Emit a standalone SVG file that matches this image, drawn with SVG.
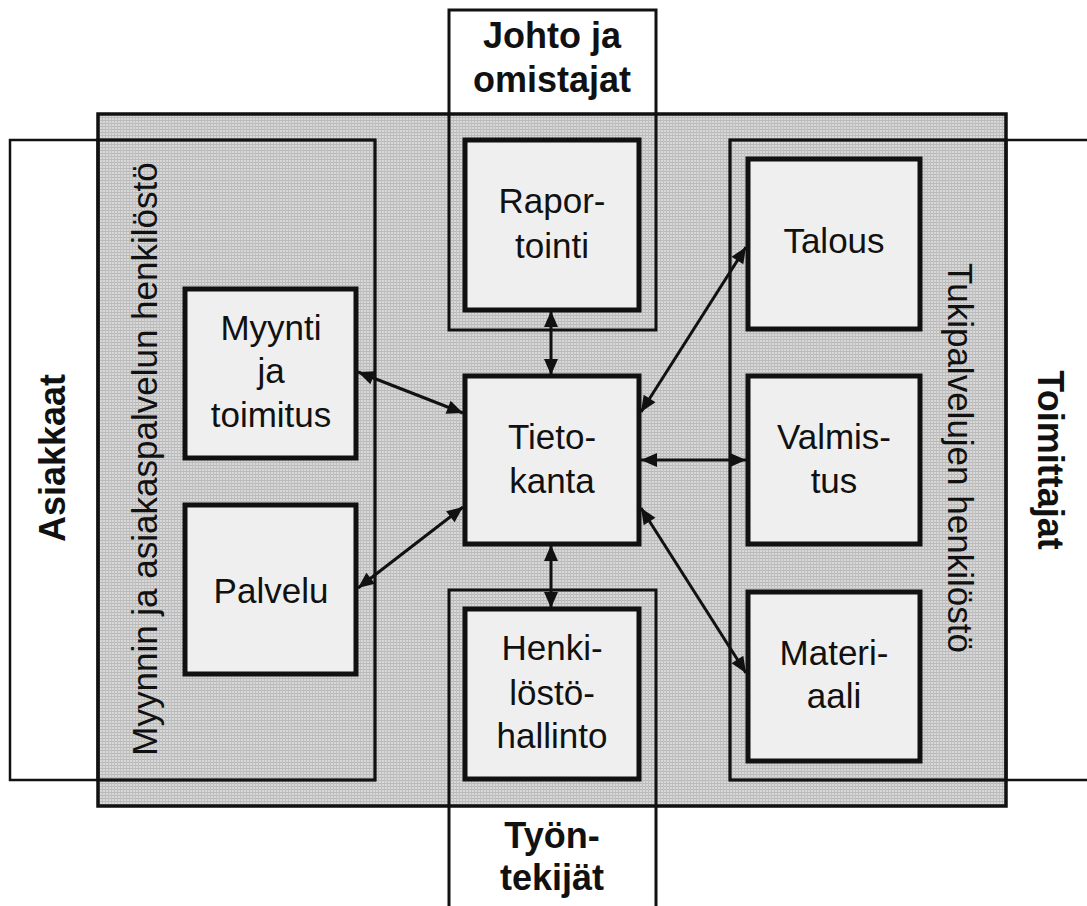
<svg xmlns="http://www.w3.org/2000/svg" width="1087" height="906" viewBox="0 0 1087 906">
<style>
.frame{fill:none;stroke:#111;stroke-width:3}
.outer{fill:none;stroke:#111;stroke-width:2.5}
.box{fill:#efefef;stroke:#111;stroke-width:5}
.t{font-family:"Liberation Sans",Arial,sans-serif;font-size:35px;fill:#111;text-anchor:middle}
.b{font-family:"Liberation Sans",Arial,sans-serif;font-size:36px;font-weight:bold;fill:#111;text-anchor:middle}
.conn{stroke:#111;stroke-width:3;fill:none;marker-start:url(#ah);marker-end:url(#ah)}
</style>
<defs>
<pattern id="grid" width="3" height="3" patternUnits="userSpaceOnUse">
<rect width="3" height="3" fill="#d8d8d8"/>
<rect width="3" height="1" fill="#b8b8b8"/>
<rect width="1" height="3" fill="#c0c0c0"/>
</pattern>
<marker id="ah" markerUnits="userSpaceOnUse" markerWidth="18" markerHeight="18" viewBox="0 0 18 18" refX="17" refY="9" orient="auto-start-reverse">
<path d="M1,2 L17,9 L1,16 Z" fill="#111"/>
</marker>
</defs>
<rect width="1087" height="906" fill="#fff"/>
<g id="background">
<rect x="98" y="114" width="908" height="692" fill="url(#grid)" stroke="#111" stroke-width="3.5"/>
</g>
<g id="asiakkaat">
<rect class="outer" x="10" y="140" width="365" height="640"/>
<text class="b" transform="translate(65,458) rotate(-90)">Asiakkaat</text>
</g>
<g id="toimittajat">
<rect class="outer" x="730" y="140" width="380" height="640"/>
<text class="b" transform="translate(1038,460) rotate(90)">Toimittajat</text>
</g>
<g id="myynnin-henkilosto">
<rect class="frame" x="98" y="140" width="277" height="640"/>
<text class="t" transform="translate(157,459) rotate(-90)">Myynnin ja asiakaspalvelun henkilöstö</text>
</g>
<g id="tukipalvelujen-henkilosto">
<rect class="frame" x="730" y="140" width="276" height="640"/>
<text class="t" transform="translate(948,458) rotate(90)">Tukipalvelujen henkilöstö</text>
</g>
<g id="johto">
<rect class="frame" x="449" y="10" width="207" height="320"/>
<text class="b" x="552" y="48">Johto ja</text>
<text class="b" x="552" y="92">omistajat</text>
</g>
<g id="tyontekijat">
<rect class="frame" x="449" y="590" width="207" height="330"/>
<text class="b" x="552" y="848">Työn-</text>
<text class="b" x="552" y="890">tekijät</text>
</g>
<g id="raportointi">
<rect class="box" x="465" y="140" width="174" height="170"/>
<text class="t" x="552" y="213">Rapor-</text>
<text class="t" x="552" y="258">tointi</text>
</g>
<g id="tietokanta">
<rect class="box" x="465" y="376" width="174" height="168"/>
<text class="t" x="552" y="449">Tieto-</text>
<text class="t" x="552" y="493">kanta</text>
</g>
<g id="henkilostohallinto">
<rect class="box" x="465" y="609" width="174" height="170"/>
<text class="t" x="552" y="660">Henki-</text>
<text class="t" x="552" y="705">löstö-</text>
<text class="t" x="552" y="748">hallinto</text>
</g>
<g id="myynti">
<rect class="box" x="185" y="289" width="171" height="169"/>
<text class="t" x="271" y="340">Myynti</text>
<text class="t" x="271" y="383">ja</text>
<text class="t" x="271" y="427">toimitus</text>
</g>
<g id="palvelu">
<rect class="box" x="185" y="505" width="171" height="169"/>
<text class="t" x="271" y="603">Palvelu</text>
</g>
<g id="talous">
<rect class="box" x="748" y="159" width="172" height="170"/>
<text class="t" x="834" y="253">Talous</text>
</g>
<g id="valmistus">
<rect class="box" x="748" y="376" width="172" height="168"/>
<text class="t" x="834" y="449">Valmis-</text>
<text class="t" x="834" y="493">tus</text>
</g>
<g id="materiaali">
<rect class="box" x="748" y="592" width="172" height="169"/>
<text class="t" x="834" y="665">Materi-</text>
<text class="t" x="834" y="708">aali</text>
</g>
<g id="connectors">
<line class="conn" x1="551" y1="311" x2="551" y2="375"/>
<line class="conn" x1="551" y1="545" x2="551" y2="608"/>
<line class="conn" x1="358" y1="372" x2="463" y2="413"/>
<line class="conn" x1="358" y1="588" x2="463" y2="507"/>
<line class="conn" x1="641" y1="412" x2="746" y2="247"/>
<line class="conn" x1="641" y1="460" x2="746" y2="460"/>
<line class="conn" x1="641" y1="508" x2="746" y2="673"/>
</g>
</svg>
